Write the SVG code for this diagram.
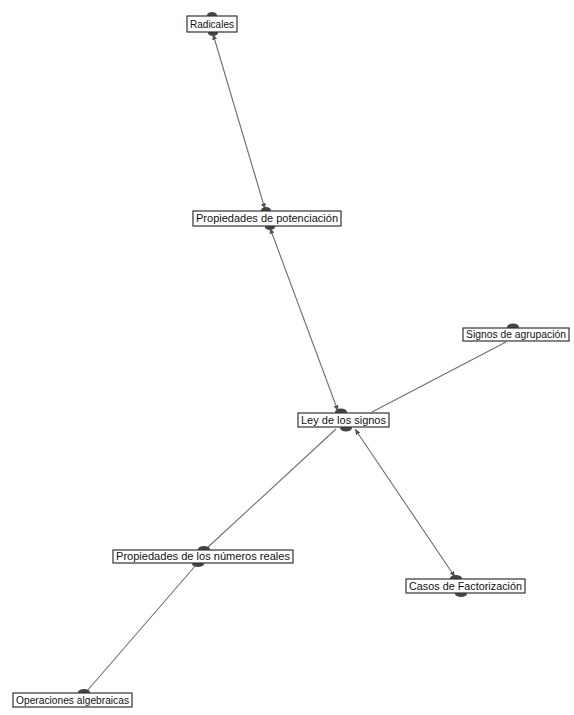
<svg xmlns="http://www.w3.org/2000/svg" width="574" height="715" viewBox="0 0 574 715">
<defs>
<style>
.box{fill:#fff;stroke:#333;stroke-width:1.2}
.lbl{font-family:"Liberation Sans",Arial,sans-serif;font-size:10px;fill:#111;text-anchor:middle}
.edge{stroke:#6e6e6e;stroke-width:1.1;fill:none}
.knob{fill:#444}
</style>
<marker id="ah" viewBox="0 0 8 8" refX="7" refY="4" markerWidth="6" markerHeight="6" orient="auto-start-reverse">
<path d="M0,1 L7,4 L0,7 z" fill="#555"/>
</marker>
</defs>
<rect width="574" height="715" fill="#fff"/>
<g id="connectors">
<line class="edge" x1="213" y1="34" x2="265" y2="209" marker-start="url(#ah)" marker-end="url(#ah)"/>
<line class="edge" x1="270" y1="228" x2="338" y2="411" marker-start="url(#ah)" marker-end="url(#ah)"/>
<line class="edge" x1="506" y1="342" x2="372" y2="412"/>
<line class="edge" x1="336" y1="429" x2="207" y2="548"/>
<line class="edge" x1="355" y1="429" x2="455" y2="577" marker-start="url(#ah)" marker-end="url(#ah)"/>
<line class="edge" x1="196" y1="565" x2="87" y2="691"/>
</g>
<g id="n-radicales">
<ellipse class="knob" cx="212" cy="15" rx="5" ry="3"/>
<ellipse class="knob" cx="213" cy="33" rx="5" ry="3"/>
<rect class="box" x="187" y="16" width="50" height="16"/>
<text class="lbl" x="212" y="27.5" textLength="44" lengthAdjust="spacingAndGlyphs">Radicales</text>
</g>
<g id="n-potenciacion">
<ellipse class="knob" cx="266" cy="210" rx="5" ry="3"/>
<ellipse class="knob" cx="270" cy="227" rx="5" ry="3"/>
<rect class="box" x="193" y="211" width="148" height="15"/>
<text class="lbl" x="267" y="222" textLength="142" lengthAdjust="spacingAndGlyphs">Propiedades de potenciación</text>
</g>
<g id="n-ley">
<ellipse class="knob" cx="341" cy="412" rx="6" ry="3.5"/>
<ellipse class="knob" cx="346" cy="428" rx="6" ry="3.5"/>
<rect class="box" x="298" y="413" width="91" height="14"/>
<text class="lbl" x="343.5" y="423.5" textLength="85" lengthAdjust="spacingAndGlyphs">Ley de los signos</text>
</g>
<g id="n-agrupacion">
<ellipse class="knob" cx="513" cy="327" rx="6" ry="3.5"/>
<rect class="box" x="463" y="328" width="106" height="13"/>
<text class="lbl" x="516" y="338" textLength="100" lengthAdjust="spacingAndGlyphs">Signos de agrupación</text>
</g>
<g id="n-reales">
<ellipse class="knob" cx="204" cy="549" rx="6" ry="3"/>
<ellipse class="knob" cx="198" cy="564" rx="6" ry="3"/>
<rect class="box" x="113" y="550" width="180" height="13"/>
<text class="lbl" x="203" y="560" textLength="174" lengthAdjust="spacingAndGlyphs">Propiedades de los números reales</text>
</g>
<g id="n-casos">
<ellipse class="knob" cx="456" cy="578" rx="6" ry="3"/>
<ellipse class="knob" cx="461" cy="594" rx="6" ry="3"/>
<rect class="box" x="406" y="579" width="119" height="14"/>
<text class="lbl" x="465.5" y="589.5" textLength="113" lengthAdjust="spacingAndGlyphs">Casos de Factorización</text>
</g>
<g id="n-operaciones">
<ellipse class="knob" cx="84" cy="692" rx="6" ry="3"/>
<rect class="box" x="13" y="693" width="119" height="14"/>
<text class="lbl" x="72.5" y="703.5" textLength="113" lengthAdjust="spacingAndGlyphs">Operaciones algebraicas</text>
</g>
</svg>
